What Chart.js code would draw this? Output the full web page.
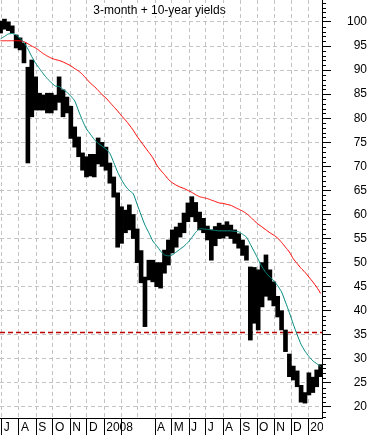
<!DOCTYPE html>
<html>
<head>
<meta charset="utf-8">
<script src="https://cdn.jsdelivr.net/npm/chart.js@4.4.1/dist/chart.umd.min.js"></script>
<style>
  html, body { margin: 0; padding: 0; background: #fff; }
  canvas { display: block; }
</style>
</head>
<body>
<canvas id="chart" width="371" height="435"></canvas>
<script>
// weekly ranges of the combined yield index, weeks ending Fridays from 2007-06-29
const firstWeek = '2007-06-29';
const weekLow = [
  97.7, 98.5, 98.2, 97.7, 94.6, 94.2, 91.5, 70.7, 80.3, 81.7,
  81.7, 81.7, 81.1, 81.1, 81.7, 83.3, 80.3, 81.1, 75.8, 74.0,
  72.0, 69.2, 67.8, 68.0, 67.8, 70.5, 70.0, 69.2, 66.5, 63.6,
  53.2, 54.0, 56.2, 56.8, 55.0, 50.0, 45.8, 36.7, 46.4, 46.0,
  45.0, 44.7, 47.8, 49.5, 52.0, 53.2, 55.3, 56.2, 58.5, 59.5,
  58.5, 56.8, 56.2, 54.7, 50.5, 53.5, 55.0, 55.1, 55.5, 55.0,
  54.0, 53.0, 51.5, 50.5, 33.9, 37.4, 36.0, 40.8, 43.0, 42.2,
  41.0, 38.7, 36.0, 31.5, 26.3, 25.6, 24.2, 21.0, 20.8, 22.5,
  23.0, 24.2, 26.3
];
const weekHigh = [
  100.2, 100.6, 100.0, 99.2, 97.3, 96.7, 95.6, 90.6, 92.1, 88.6,
  85.2, 84.8, 85.2, 85.2, 84.8, 88.6, 85.9, 84.4, 82.5, 78.2,
  76.1, 72.8, 72.0, 72.5, 72.5, 75.9, 75.0, 74.0, 70.7, 67.8,
  64.5, 61.6, 60.9, 62.0, 60.0, 57.0, 52.5, 47.0, 50.5, 50.5,
  50.0, 50.0, 52.6, 54.7, 56.8, 57.4, 58.2, 60.3, 62.4, 63.7,
  62.5, 60.5, 59.2, 57.6, 56.8, 57.5, 58.2, 57.8, 58.5, 57.8,
  56.8, 56.0, 54.7, 53.5, 49.1, 49.0, 48.5, 50.0, 51.6, 48.5,
  46.0, 43.0, 40.0, 36.0, 31.0, 28.5, 27.5, 24.5, 23.0, 27.1,
  26.2, 27.7, 28.8
];
// 50-day (teal) and 200-day (red) moving averages, same weeks
const ma50 = [
  96.5, 97.0, 97.5, 97.6, 97.3, 96.6, 95.7, 94.4, 92.8, 91.4,
  90.3, 89.2, 88.2, 87.4, 86.7, 86.6, 86.0, 85.4, 84.6, 83.6,
  81.5, 79.5, 77.8, 76.7, 75.6, 74.8, 74.2, 73.6, 72.7, 70.8,
  68.8, 67.2, 65.9, 65.0, 64.3, 62.1, 59.9, 57.8, 56.2, 54.5,
  53.5, 52.4, 51.6, 51.4, 51.6, 52.2, 52.8, 53.4, 54.2, 55.2,
  56.3, 57.0, 57.0, 56.9, 56.8, 56.7, 56.6, 56.6, 56.6, 56.6,
  56.5, 56.4, 55.9, 55.3, 53.8, 52.3, 50.7, 49.1, 47.9, 47.0,
  46.2, 45.2, 43.9, 41.8, 39.6, 37.2, 35.0, 33.0, 31.6, 30.5,
  29.6, 29.0, 28.4
];
const ma200 = [
  96.1, 96.1, 96.1, 96.1, 96.1, 96.1, 95.9, 95.5, 95.0, 94.6,
  94.0, 93.4, 92.9, 92.5, 92.2, 92.0, 91.7, 91.3, 90.9, 90.3,
  89.8, 89.1, 88.2, 87.3, 86.6, 85.8, 84.9, 84.2, 83.3, 82.4,
  81.5, 80.5, 79.6, 78.6, 77.5, 76.2, 75.1, 74.0, 72.9, 71.8,
  70.3, 69.2, 68.3, 67.3, 66.6, 66.1, 65.7, 65.4, 65.0, 64.6,
  64.1, 63.7, 63.5, 63.3, 63.0, 62.7, 62.4, 62.3, 62.1, 61.9,
  61.5, 61.1, 60.7, 60.2, 59.5, 58.7, 58.0, 57.4, 56.8, 56.2,
  55.7, 55.1, 54.2, 53.2, 52.2, 50.8, 49.8, 48.8, 48.0, 47.0,
  46.0, 44.9, 43.6
];
const supportLevel = 35.5;

const monthStarts = [
  '2007-07-01', '2007-08-01', '2007-09-01', '2007-10-01', '2007-11-01', '2007-12-01',
  '2008-01-01', '2008-02-01', '2008-03-01', '2008-04-01', '2008-05-01', '2008-06-01',
  '2008-07-01', '2008-08-01', '2008-09-01', '2008-10-01', '2008-11-01', '2008-12-01',
  '2009-01-01'
];
const monthLabels = ['J', 'A', 'S', 'O', 'N', 'D', '2008', '', '', 'A', 'M', 'J', 'J', 'A', 'S', 'O', 'N', 'D', '2009'];
const viewStart = '2007-06-28';
const viewEnd = '2009-01-25';
const yTickStep = 5;

const origin = Date.parse('2007-07-01');
const dayOf = (s) => (Date.parse(s) - origin) / 864e5;
const weekX = weekLow.map((_, i) => dayOf(firstWeek) + 7 * i);
const monthX = monthStarts.map(dayOf);
const xMin = dayOf(viewStart);
const xMax = dayOf(viewEnd) + 0.5;

const font = { family: "'Liberation Sans', Arial, sans-serif", size: 12 };

const noPadding = (scale) => {
  scale.paddingTop = 0;
  scale.paddingBottom = 0;
  scale.paddingLeft = 0;
  scale.paddingRight = 0;
};

const extras = {
  id: 'extras',
  afterDraw(chart) {
    const { ctx, chartArea: area, scales: { y } } = chart;
    ctx.save();
    // last month label runs under the price axis in the original, cut it there
    ctx.fillStyle = '#fff';
    ctx.fillRect(area.right + 1, area.bottom + 1, chart.width - area.right, chart.height - area.bottom);
    // minor ticks on the price axis
    ctx.strokeStyle = '#000';
    ctx.lineWidth = 1;
    ctx.beginPath();
    for (let v = Math.ceil(y.min); v <= y.max; v++) {
      if (v % yTickStep === 0) continue;
      const py = Math.round(y.getPixelForValue(v)) + 0.5;
      ctx.moveTo(area.right, py);
      ctx.lineTo(area.right + 4, py);
    }
    ctx.stroke();
    // title inside the plot
    const title = '3-month + 10-year yields';
    ctx.font = `${font.size}px ${font.family}`;
    const w = ctx.measureText(title).width;
    const cx = area.left + area.width / 2 - 1.5;
    ctx.fillStyle = '#fff';
    ctx.fillRect(cx - w / 2 - 2, 3, w + 4, 13);
    ctx.fillStyle = '#000';
    ctx.textAlign = 'center';
    ctx.textBaseline = 'alphabetic';
    ctx.fillText(title, cx, 13.5);
    ctx.restore();
  }
};

new Chart(document.getElementById('chart'), {
  type: 'line',
  data: {
    datasets: [
      {
        type: 'line',
        data: [{ x: xMin, y: supportLevel }, { x: xMax, y: supportLevel }],
        borderColor: '#c00000',
        borderWidth: 1.5,
        borderDash: [5, 3],
        pointRadius: 0,
        order: 3
      },
      {
        type: 'bar',
        data: weekX.map((x, i) => ({ x, y: [weekLow[i], weekHigh[i]] })),
        backgroundColor: '#000',
        barThickness: 4,
        order: 2
      },
      {
        type: 'line',
        data: weekX.map((x, i) => ({ x, y: ma200[i] })),
        borderColor: '#ff0000',
        borderWidth: 1,
        pointRadius: 0,
        tension: 0.2,
        order: 1
      },
      {
        type: 'line',
        data: weekX.map((x, i) => ({ x, y: ma50[i] })),
        borderColor: '#008a80',
        borderWidth: 1,
        pointRadius: 0,
        tension: 0.2,
        order: 0
      }
    ]
  },
  options: {
    responsive: false,
    animation: false,
    devicePixelRatio: 1,
    layout: { autoPadding: false, padding: { left: 0, top: 0, right: 4, bottom: 0 } },
    plugins: { legend: { display: false }, tooltip: { enabled: false }, title: { display: false } },
    scales: {
      x: {
        type: 'linear',
        min: xMin,
        max: xMax,
        offset: false,
        afterBuildTicks: (scale) => { scale.ticks = monthX.map((v) => ({ value: v })); },
        afterFit: (scale) => { scale.height = 17; noPadding(scale); },
        grid: {
          offset: false,
          color: '#c4c4c4',
          lineWidth: 1,
          tickLength: 17,
          tickColor: (c) => (c.index === 8 ? 'rgba(0,0,0,0)' : '#000'),
          tickWidth: 1
        },
        border: { display: true, color: '#000', width: 1, dash: [4, 3] },
        ticks: {
          autoSkip: false,
          maxRotation: 0,
          minRotation: 0,
          align: 'start',
          labelOffset: 2,
          padding: -15,
          color: '#000',
          font,
          callback: (v, i) => monthLabels[i]
        }
      },
      y: {
        type: 'linear',
        position: 'right',
        min: 17.71,
        max: 104.57,
        afterFit: (scale) => { scale.width = 45; noPadding(scale); },
        grid: {
          color: '#c4c4c4',
          lineWidth: 1,
          tickLength: 9,
          tickColor: '#000',
          tickWidth: 1
        },
        border: { display: true, color: '#000', width: 1, dash: [4, 3] },
        ticks: {
          stepSize: yTickStep,
          includeBounds: false,
          crossAlign: 'far',
          padding: 16,
          color: '#000',
          font
        }
      }
    }
  },
  plugins: [extras]
});
</script>
</body>
</html>
